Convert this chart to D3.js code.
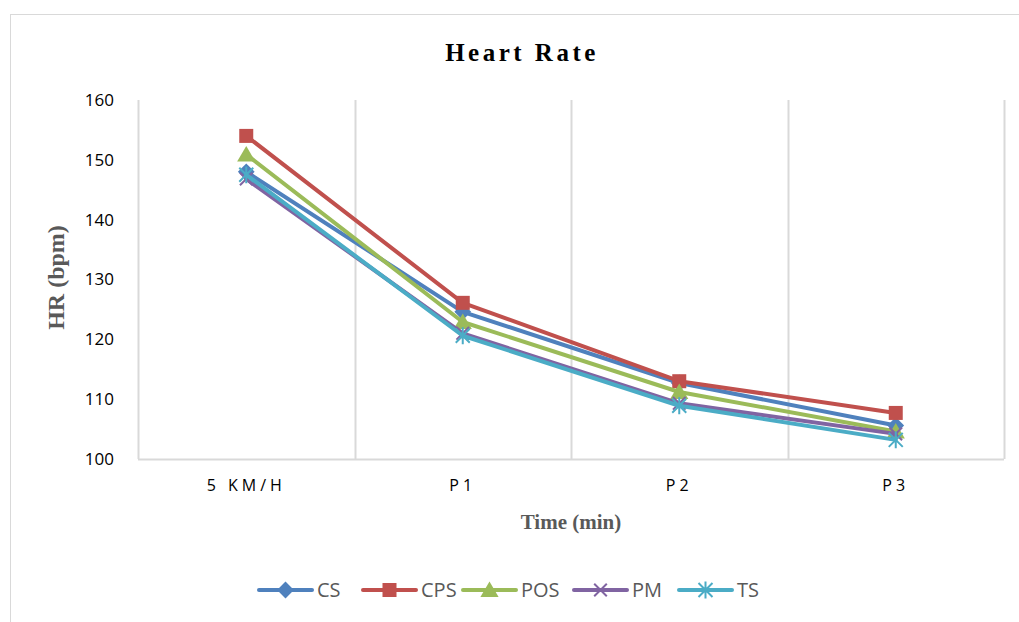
<!DOCTYPE html>
<html>
<head>
<meta charset="utf-8">
<script src="https://cdn.jsdelivr.net/npm/d3@7"></script>
<style>
  body { margin: 0; background: #fff; }
  .tick text { font-family: "Open Sans", "Noto Sans", sans-serif; }
</style>
</head>
<body>
<div id="chart"></div>
<script>
// Chart data
const categories = ['5 KM/H', 'P1', 'P2', 'P3']
const yTicks = [100, 110, 120, 130, 140, 150, 160]
const seriesNames = ['CS', 'CPS', 'POS', 'PM', 'TS']
const csValues = [148, 124.6, 112.7, 105.6]
const cpsValues = [154, 126.1, 113, 107.7]
const posValues = [150.9, 122.9, 111.2, 104.6]
const pmValues = [146.8, 121, 109.3, 104.2]
const tsValues = [147.5, 120.6, 108.9, 103.2]

const colors = ['#4F81BD', '#C0504D', '#9BBB59', '#8064A2', '#4BACC6']
const markers = ['diamond', 'square', 'triangle', 'cross', 'star']
const allValues = [csValues, cpsValues, posValues, pmValues, tsValues]

let series = seriesNames.map((name, i) => ({
  name: name,
  color: colors[i],
  marker: markers[i],
  values: allValues[i].map((v, j) => ({ cat: categories[j], value: v }))
}))

let W = 1019, H = 622
let margin = { top: 100, right: 15, bottom: 163, left: 138 },
    width = W - margin.left - margin.right,
    height = H - margin.top - margin.bottom

let svg = d3.select('#chart').append('svg')
  .attr('width', W)
  .attr('height', H)

// Outer frame
svg.append('rect')
  .attr('x', 10.5).attr('y', 14.5)
  .attr('width', 1030).attr('height', 640)
  .attr('fill', 'none')
  .attr('stroke', '#d9d9d9')

// Title
svg.append('text')
  .attr('x', 522).attr('y', 61)
  .attr('text-anchor', 'middle')
  .style('font-family', '"Liberation Serif", serif')
  .style('font-weight', 'bold')
  .style('font-size', '25px')
  .style('letter-spacing', '3.5px')
  .text('Heart Rate')

let g = svg.append('g')
  .attr('transform', 'translate(' + margin.left + ',' + margin.top + ')')

let xScale = d3.scaleBand().domain(categories).range([0, width])
let yScale = d3.scaleLinear().domain([100, 160]).range([height, 0])

// Vertical gridlines at category boundaries
let bounds = categories.map(c => xScale(c)).concat([width])
g.selectAll('.grid-x')
  .data(bounds)
  .enter().append('line')
  .attr('class', 'grid-x')
  .attr('x1', d => Math.round(d) + 0.5)
  .attr('x2', d => Math.round(d) + 0.5)
  .attr('y1', 0)
  .attr('y2', height)
  .attr('stroke', '#d9d9d9')
  .attr('stroke-width', 2)

// Bottom axis line
g.append('line')
  .attr('x1', 0).attr('x2', width)
  .attr('y1', height + 0.5).attr('y2', height + 0.5)
  .attr('stroke', '#d9d9d9')
  .attr('stroke-width', 2)

// Y axis
let yAxis = d3.axisLeft(yScale).tickValues(yTicks).tickSize(0).tickPadding(24)
let yG = g.append('g').call(yAxis)
yG.select('.domain').remove()
yG.selectAll('text')
  .style('font-size', '17px')
  .attr('fill', '#000')

// X axis
let xAxis = d3.axisBottom(xScale).tickSize(0).tickPadding(21)
let xG = g.append('g')
  .attr('transform', 'translate(0,' + height + ')')
  .call(xAxis)
xG.select('.domain').remove()
xG.selectAll('text')
  .style('font-size', '16px')
  .style('letter-spacing', '4px')
  .attr('fill', '#000')

// Axis titles
svg.append('text')
  .attr('x', margin.left + width / 2).attr('y', 529)
  .attr('text-anchor', 'middle')
  .style('font-family', '"Liberation Serif", serif')
  .style('font-weight', 'bold')
  .style('font-size', '21px')
  .attr('fill', '#595959')
  .text('Time (min)')

svg.append('text')
  .attr('transform', 'translate(64,' + (margin.top + height / 2 - 2) + ') rotate(-90)')
  .attr('text-anchor', 'middle')
  .style('font-family', '"Liberation Serif", serif')
  .style('font-weight', 'bold')
  .style('font-size', '24px')
  .attr('fill', '#595959')
  .text('HR (bpm)')

// Marker drawing
function drawMarker(sel, type, color, size) {
  if (type === 'diamond') {
    let s = size * 0.6
    sel.append('path')
      .attr('d', 'M0,' + -s + 'L' + s + ',0L0,' + s + 'L' + -s + ',0Z')
      .attr('fill', color)
  } else if (type === 'square') {
    sel.append('rect')
      .attr('x', -size / 2).attr('y', -size / 2)
      .attr('width', size).attr('height', size)
      .attr('fill', color)
  } else if (type === 'triangle') {
    sel.append('path')
      .attr('d', 'M0,' + (-size * 0.6) + 'L' + (size * 0.65) + ',' + (size * 0.5) + 'L' + (-size * 0.65) + ',' + (size * 0.5) + 'Z')
      .attr('fill', color)
  } else if (type === 'cross') {
    let s = size * 0.45
    sel.append('path')
      .attr('d', 'M' + -s + ',' + -s + 'L' + s + ',' + s + 'M' + s + ',' + -s + 'L' + -s + ',' + s)
      .attr('stroke', color).attr('stroke-width', 2).attr('fill', 'none')
  } else if (type === 'star') {
    let s = size * 0.5
    sel.append('path')
      .attr('d', 'M' + -s + ',' + -s + 'L' + s + ',' + s + 'M' + s + ',' + -s + 'L' + -s + ',' + s + 'M0,' + -s * 1.2 + 'L0,' + s * 1.2)
      .attr('stroke', color).attr('stroke-width', 2).attr('fill', 'none')
  }
}

// Lines
let line = d3.line()
  .x(d => xScale(d.cat) + xScale.bandwidth() / 2)
  .y(d => yScale(d.value))

series.forEach(s => {
  let sg = g.append('g').attr('class', 'series')
  sg.append('path')
    .datum(s.values)
    .attr('d', line)
    .attr('fill', 'none')
    .attr('stroke', s.color)
    .attr('stroke-width', 4)
    .attr('stroke-linejoin', 'round')
    .attr('stroke-linecap', 'round')
  s.values.forEach(d => {
    let mg = sg.append('g')
      .attr('transform', 'translate(' + (xScale(d.cat) + xScale.bandwidth() / 2) + ',' + yScale(d.value) + ')')
    drawMarker(mg, s.marker, s.color, 14)
  })
})

// Legend
let legendX = [259, 363, 463, 574, 679]
series.forEach((s, i) => {
  let lg = svg.append('g')
    .attr('transform', 'translate(' + legendX[i] + ',590)')
  lg.append('line')
    .attr('x1', 0).attr('x2', 53)
    .attr('y1', 0).attr('y2', 0)
    .attr('stroke', s.color)
    .attr('stroke-width', 4)
    .attr('stroke-linecap', 'round')
  let mg = lg.append('g').attr('transform', 'translate(26.5,0)')
  drawMarker(mg, s.marker, s.color, 14)
  lg.append('text')
    .attr('x', 58).attr('y', 7)
    .style('font-family', '"Open Sans", "Noto Sans", sans-serif')
    .style('font-size', '20px')
    .attr('fill', '#595959')
    .text(s.name)
})
</script>
</body>
</html>
